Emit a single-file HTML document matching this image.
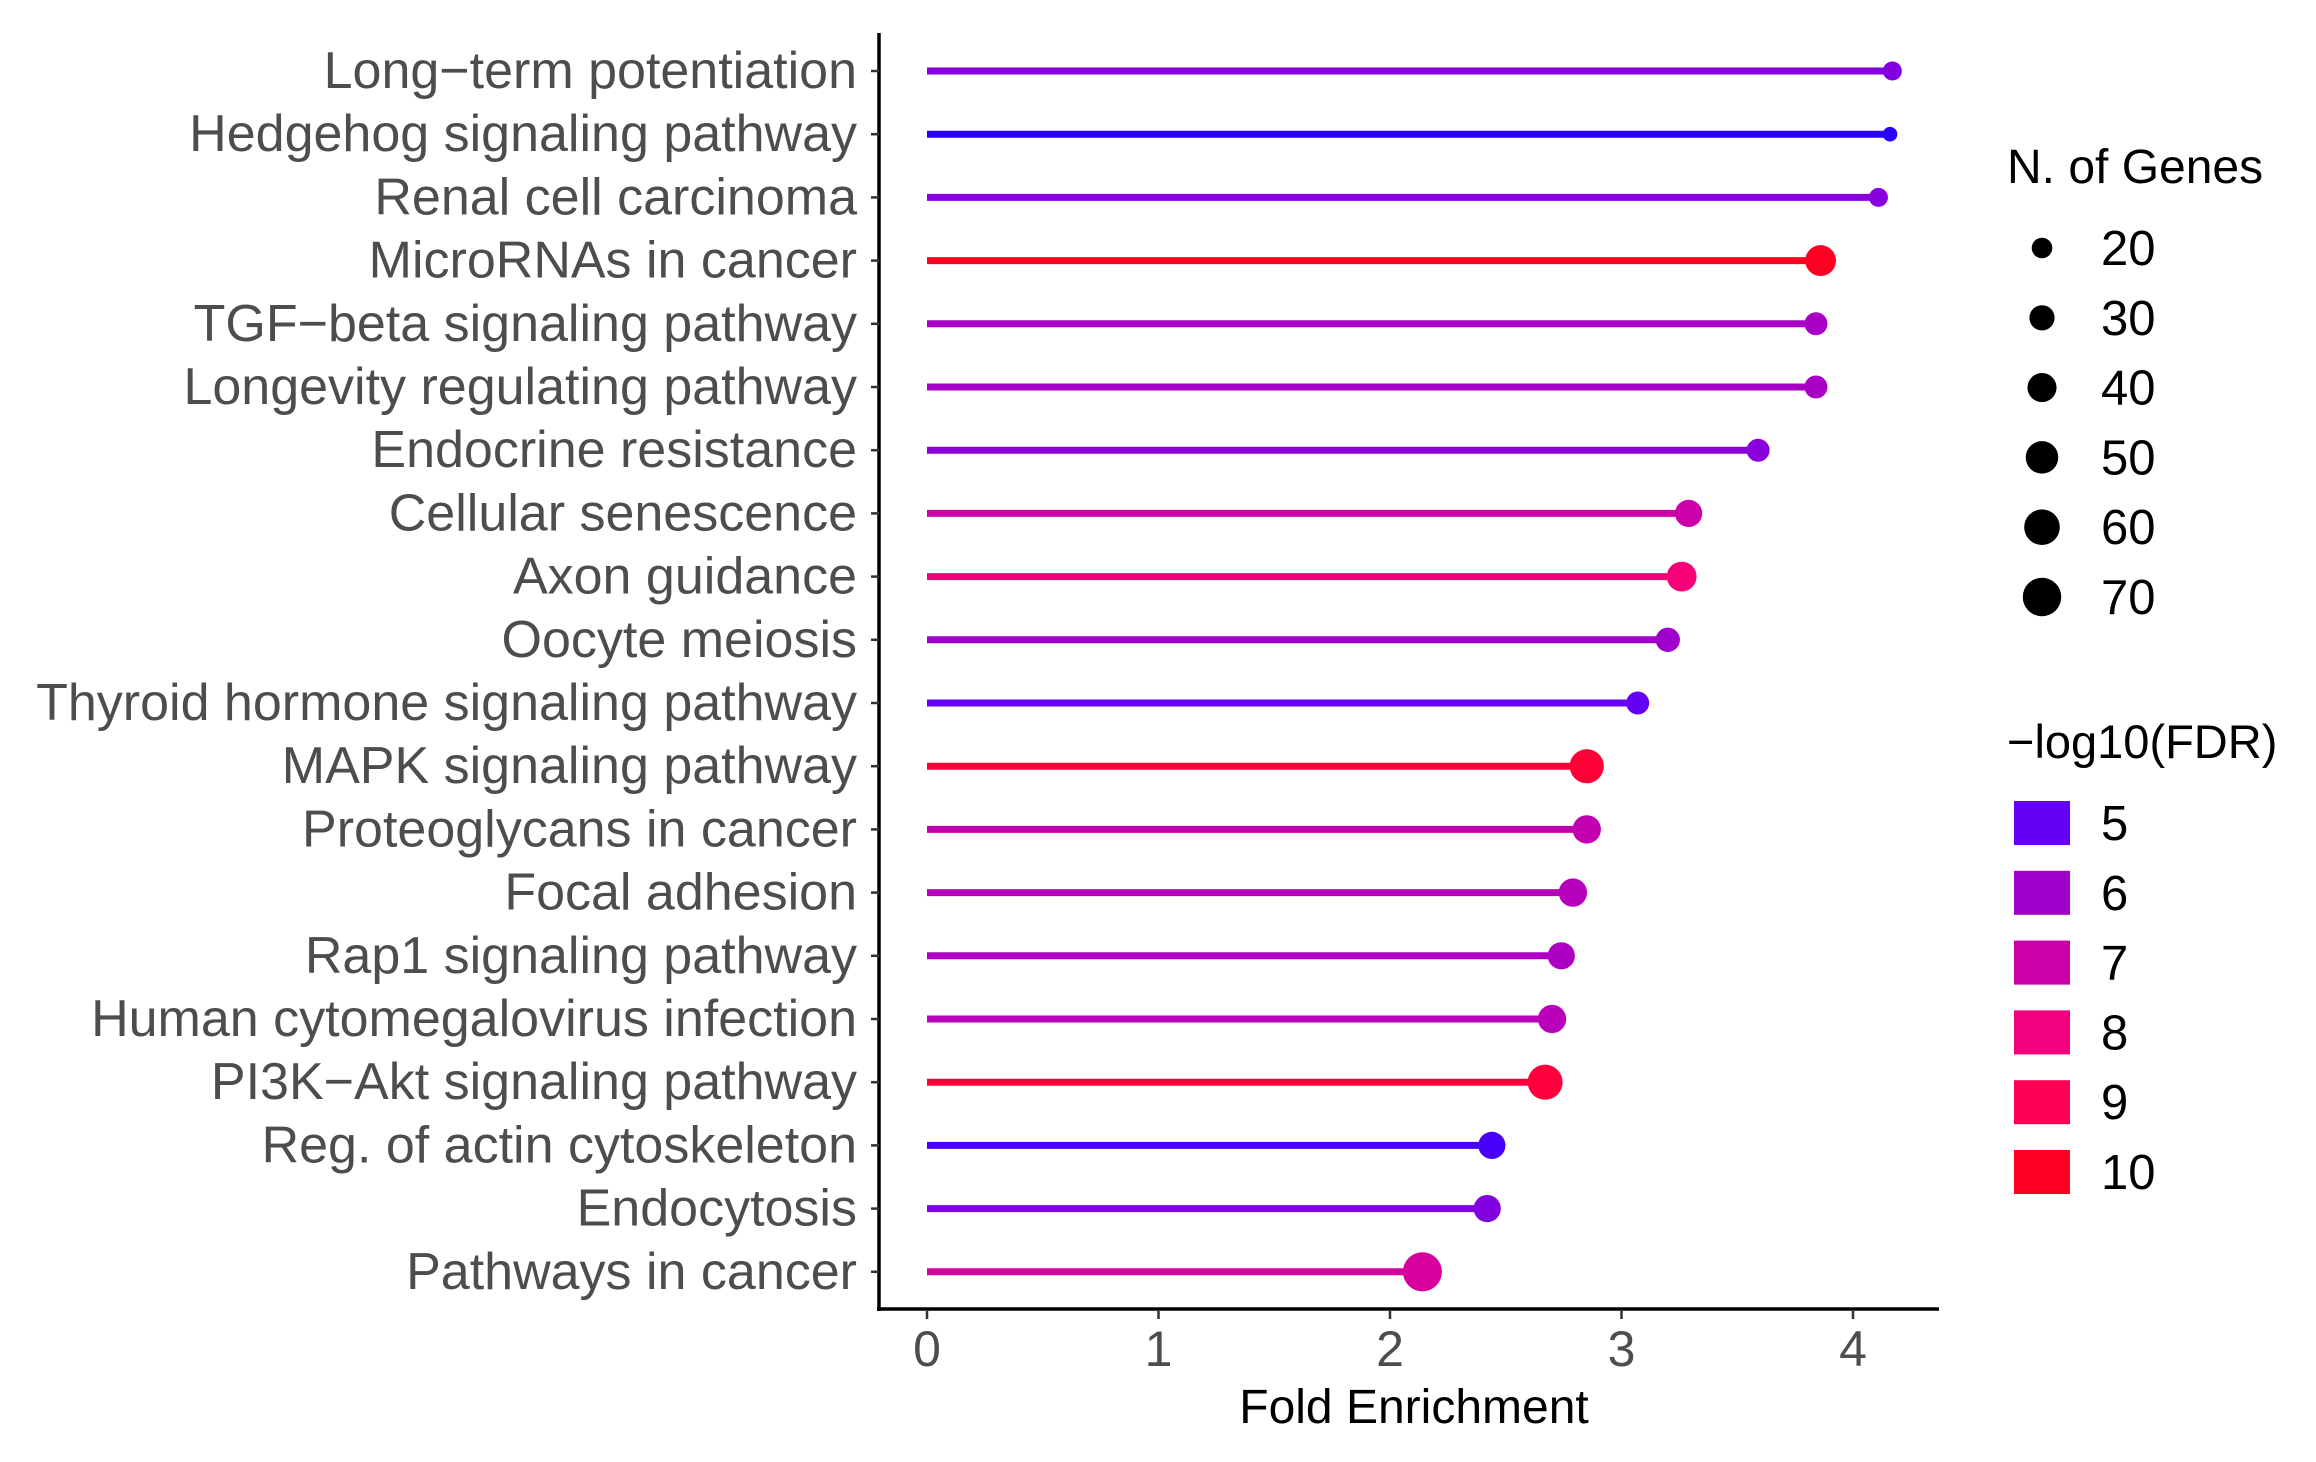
<!DOCTYPE html>
<html><head><meta charset="utf-8">
<style>
html,body{margin:0;padding:0;background:#fff;}
svg{display:block;}
text{font-family:"Liberation Sans",Arial,sans-serif;}
</style></head>
<body>
<svg id="chart" width="2316" height="1462" viewBox="0 0 2316 1462" xmlns="http://www.w3.org/2000/svg">
<g id="plot"></g>
<g id="legend"></g>
</svg>
<script>
const categories = ["Long\u2212term potentiation","Hedgehog signaling pathway","Renal cell carcinoma","MicroRNAs in cancer","TGF\u2212beta signaling pathway","Longevity regulating pathway","Endocrine resistance","Cellular senescence","Axon guidance","Oocyte meiosis","Thyroid hormone signaling pathway","MAPK signaling pathway","Proteoglycans in cancer","Focal adhesion","Rap1 signaling pathway","Human cytomegalovirus infection","PI3K\u2212Akt signaling pathway","Reg. of actin cytoskeleton","Endocytosis","Pathways in cancer"];
const foldEnrichment = [4.17,4.16,4.11,3.86,3.84,3.84,3.59,3.29,3.26,3.20,3.07,2.85,2.85,2.79,2.74,2.70,2.67,2.44,2.42,2.14];
const nGenes = [17,10,17,45,25,25,25,35,42,28,25,55,38,38,35,38,58,35,35,72];
const negLogFDR = [5.5,4.2,5.6,10.0,6.2,6.2,5.6,7.0,8.2,6.0,5.0,9.6,6.8,6.5,6.3,6.6,9.5,4.6,5.5,7.3];
const xTicks = [0,1,2,3,4];
const sizeLegend = [20,30,40,50,60,70];
const colorLegend = [5,6,7,8,9,10];

const NS="http://www.w3.org/2000/svg";
const X0=927, XU=231.5, Y0=71, YS=63.2;
const xs = v => X0 + v*XU;
const ys = i => Y0 + i*YS;
const rs = n => 2.3*Math.sqrt(n);
const anchors=[[4,[26,0,255]],[5,[102,0,245]],[6,[160,0,204]],[7,[204,0,170]],[8,[242,0,128]],[9,[255,0,85]],[10,[255,0,34]]];
function col(v){
  if(v<=anchors[0][0]) return 'rgb('+anchors[0][1]+')';
  for(let i=0;i<anchors.length-1;i++){
    const [a,ca]=anchors[i],[b,cb]=anchors[i+1];
    if(v<=b){const t=(v-a)/(b-a);return 'rgb('+ca.map((c,k)=>Math.round(c+(cb[k]-c)*t)).join(',')+')';}
  }
  return 'rgb('+anchors[anchors.length-1][1]+')';
}
function mk(tag,attrs,parent,txt){
  const e=document.createElementNS(NS,tag);
  for(const k in attrs) e.setAttribute(k,attrs[k]);
  if(txt!==undefined) e.textContent=txt;
  parent.appendChild(e); return e;
}
const plot=document.getElementById('plot');
const leg=document.getElementById('legend');

let ax=mk('line',{x1:879,y1:33,x2:879,y2:1311,stroke:'#000','stroke-width':3.5},plot);


ax=mk('line',{x1:877,y1:1309,x2:1939,y2:1309,stroke:'#000','stroke-width':3.5},plot);



categories.forEach((c,i)=>{
  const y=ys(i);
  const tk=mk('line',{x1:871,y1:y,x2:879,y2:y,stroke:'#333','stroke-width':2.5},plot);
  
  
  const t=mk('text',{x:857,y:y+17,'text-anchor':'end','font-size':52,fill:'#4d4d4d'},plot,c);
  
  
  const cl=col(negLogFDR[i]);
  const ln=mk('line',{x1:xs(0),y1:y,x2:xs(foldEnrichment[i]),y2:y,stroke:cl,'stroke-width':7},plot);
  
  
  const d=mk('circle',{cx:xs(foldEnrichment[i]),cy:y,r:rs(nGenes[i]),fill:cl},plot);
  
  
});

xTicks.forEach(v=>{
  const x=xs(v);
  const tk=mk('line',{x1:x,y1:1311,x2:x,y2:1319,stroke:'#333','stroke-width':2.5},plot);
  
  
  const t=mk('text',{x:x,y:1366,'text-anchor':'middle','font-size':50,fill:'#4d4d4d'},plot,String(v));
  
  
});
const xt=mk('text',{x:1414,y:1423,'text-anchor':'middle','font-size':48,fill:'#000'},plot,'Fold Enrichment');



let lt=mk('text',{x:2007,y:183,'font-size':48,fill:'#000'},leg,'N. of Genes');


sizeLegend.forEach((n,i)=>{
  const y=248+i*69.8;
  const c=mk('circle',{cx:2042,cy:y,r:rs(n)*1.0,fill:'#000'},leg);
  
  
  const t=mk('text',{x:2101,y:y+17,'font-size':49,fill:'#000'},leg,String(n));
  
  
});
lt=mk('text',{x:2007,y:758,'font-size':47,fill:'#000'},leg,'\u2212log10(FDR)');


colorLegend.forEach((v,i)=>{
  const y=823+i*69.8;
  const r=mk('rect',{x:2014,y:y-22,width:56,height:44,fill:col(v)},leg);
  
  
  const t=mk('text',{x:2101,y:y+17,'font-size':49,fill:'#000'},leg,String(v));
  
  
});
</script>
</body></html>
